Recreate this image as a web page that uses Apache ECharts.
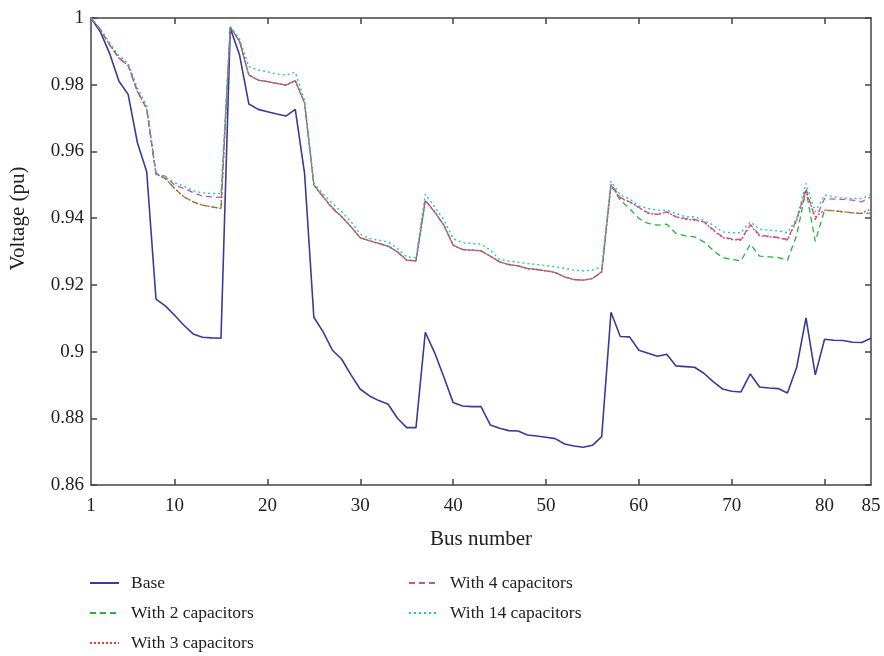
<!DOCTYPE html>
<html>
<head>
<meta charset="utf-8">
<script src="https://cdn.jsdelivr.net/npm/echarts@6/dist/echarts.min.js"></script>
<style>
html,body{margin:0;padding:0;background:#fff;}
#chart{width:884px;height:656px;}
</style>
</head>
<body>
<div id="chart"></div>
<script>
const buses = Array.from({length: 85}, (_, i) => i + 1);
const xTickLabels = [1, 10, 20, 30, 40, 50, 60, 70, 80, 85];
const xTicks = [10, 20, 30, 40, 50, 60, 70, 80];

const base = [
1.0000,0.9959,0.9894,0.9811,0.9771,0.9626,0.9539,0.9157,0.9137,0.9109,
0.9079,0.9053,0.9043,0.9041,0.9040,0.9969,0.9889,0.9742,0.9726,0.9719,
0.9712,0.9706,0.9726,0.9534,0.9103,0.9059,0.9004,0.8977,0.8930,0.8887,
0.8867,0.8853,0.8842,0.8800,0.8772,0.8772,0.9058,0.8997,0.8924,0.8847,
0.8837,0.8835,0.8835,0.8780,0.8770,0.8763,0.8762,0.8750,0.8747,0.8743,
0.8739,0.8723,0.8717,0.8713,0.8719,0.8745,0.9118,0.9045,0.9044,0.9004,
0.8995,0.8986,0.8992,0.8957,0.8955,0.8953,0.8935,0.8910,0.8888,0.8881,
0.8879,0.8933,0.8894,0.8891,0.8889,0.8876,0.8953,0.9101,0.8930,0.9037,
0.9034,0.9033,0.9028,0.9027,0.9040];

const cap2 = [
1.0000,0.9965,0.9920,0.9880,0.9858,0.9780,0.9728,0.9532,0.9519,0.9489,
0.9464,0.9449,0.9439,0.9434,0.9429,0.9972,0.9930,0.9829,0.9814,0.9809,
0.9804,0.9799,0.9812,0.9745,0.9499,0.9464,0.9429,0.9404,0.9374,0.9341,
0.9332,0.9324,0.9316,0.9299,0.9274,0.9272,0.9452,0.9419,0.9379,0.9319,
0.9306,0.9304,0.9302,0.9286,0.9269,0.9261,0.9257,0.9249,0.9246,0.9242,
0.9237,0.9224,0.9216,0.9214,0.9219,0.9239,0.9499,0.9454,0.9429,0.9399,
0.9384,0.9379,0.9382,0.9354,0.9347,0.9344,0.9329,0.9304,0.9282,0.9276,
0.9272,0.9322,0.9286,0.9284,0.9282,0.9274,0.9349,0.9484,0.9330,0.9424,
0.9422,0.9419,0.9416,0.9414,0.9415];

const cap3 = [
1.0000,0.9965,0.9920,0.9880,0.9858,0.9780,0.9728,0.9532,0.9519,0.9489,
0.9464,0.9449,0.9439,0.9434,0.9429,0.9972,0.9930,0.9829,0.9814,0.9809,
0.9804,0.9799,0.9812,0.9745,0.9499,0.9464,0.9429,0.9404,0.9374,0.9341,
0.9332,0.9324,0.9316,0.9299,0.9274,0.9272,0.9452,0.9419,0.9379,0.9319,
0.9306,0.9304,0.9302,0.9286,0.9269,0.9261,0.9257,0.9249,0.9246,0.9242,
0.9237,0.9224,0.9216,0.9214,0.9219,0.9239,0.9499,0.9459,0.9449,0.9432,
0.9414,0.9411,0.9419,0.9404,0.9397,0.9394,0.9389,0.9364,0.9342,0.9336,
0.9334,0.9379,0.9347,0.9344,0.9341,0.9334,0.9394,0.9479,0.9404,0.9424,
0.9422,0.9419,0.9416,0.9414,0.9428];

const cap4 = [
1.0000,0.9965,0.9920,0.9880,0.9858,0.9780,0.9728,0.9532,0.9526,0.9499,
0.9489,0.9477,0.9466,0.9464,0.9462,0.9972,0.9930,0.9829,0.9814,0.9809,
0.9804,0.9799,0.9812,0.9745,0.9499,0.9464,0.9432,0.9404,0.9374,0.9341,
0.9332,0.9324,0.9316,0.9299,0.9274,0.9272,0.9455,0.9419,0.9379,0.9319,
0.9306,0.9304,0.9302,0.9286,0.9269,0.9261,0.9257,0.9249,0.9246,0.9242,
0.9237,0.9224,0.9216,0.9214,0.9219,0.9239,0.9502,0.9462,0.9449,0.9432,
0.9416,0.9411,0.9419,0.9404,0.9399,0.9396,0.9389,0.9366,0.9344,0.9338,
0.9336,0.9381,0.9349,0.9346,0.9342,0.9336,0.9396,0.9489,0.9395,0.9459,
0.9457,0.9456,0.9454,0.9449,0.9464];

const cap14 = [
1.0000,0.9968,0.9926,0.9887,0.9865,0.9790,0.9738,0.9535,0.9522,0.9506,
0.9496,0.9482,0.9476,0.9474,0.9474,0.9975,0.9937,0.9854,0.9844,0.9839,
0.9832,0.9829,0.9837,0.9752,0.9505,0.9472,0.9444,0.9419,0.9389,0.9352,
0.9339,0.9334,0.9329,0.9309,0.9284,0.9282,0.9472,0.9434,0.9394,0.9339,
0.9326,0.9324,0.9322,0.9304,0.9276,0.9271,0.9268,0.9264,0.9261,0.9258,
0.9254,0.9249,0.9244,0.9242,0.9244,0.9254,0.9511,0.9469,0.9458,0.9436,
0.9429,0.9424,0.9424,0.9414,0.9404,0.9404,0.9394,0.9379,0.9359,0.9356,
0.9356,0.9389,0.9367,0.9364,0.9362,0.9356,0.9399,0.9504,0.9419,0.9469,
0.9464,0.9460,0.9459,0.9459,0.9471];

const seriesNames = ['Base', 'With 2 capacitors', 'With 3 capacitors', 'With 4 capacitors', 'With 14 capacitors'];

const FONT = '"Liberation Serif", "DejaVu Serif", serif';
const AX = '#444';
const TXT = '#222';

function pairs(arr) { return buses.map((b, i) => [b, arr[i]]); }

function mk(name, arr, color, type, width) {
  return {
    name: name, type: 'line', data: pairs(arr),
    symbol: 'none', showSymbol: false,
    xAxisIndex: 0, yAxisIndex: 0,
    lineStyle: { color: color, width: width, type: type },
    itemStyle: { color: color },
    emphasis: { disabled: true }, animation: false
  };
}

function leg(name, left, centerY) {
  return {
    data: [name], left: left, top: centerY - 9, padding: 0,
    itemWidth: 29, itemHeight: 18, selectedMode: false,
    itemStyle: { opacity: 0 },
    textStyle: { fontFamily: FONT, fontSize: 17.5, color: TXT, padding: [0, 0, 0, 7] }
  };
}

const chart = echarts.init(document.getElementById('chart'), null, { renderer: 'canvas' });
chart.setOption({
  backgroundColor: '#fff',
  animation: false,
  grid: { left: 91, right: 13, top: 18, bottom: 171, containLabel: false },
  legend: [
    leg(seriesNames[0], 89, 583),
    leg(seriesNames[1], 89, 613),
    leg(seriesNames[2], 89, 643),
    leg(seriesNames[3], 408, 583),
    leg(seriesNames[4], 408, 613)
  ],
  xAxis: [
    { type: 'value', min: 1, max: 85, position: 'bottom',
      name: 'Bus number', nameLocation: 'middle', nameGap: 44,
      nameTextStyle: { fontFamily: FONT, fontSize: 21, color: TXT },
      axisLine: { lineStyle: { color: AX, width: 1.5 } },
      axisTick: { inside: true, length: 6, lineStyle: { color: AX, width: 1.5 }, customValues: xTicks },
      axisLabel: { fontFamily: FONT, fontSize: 19, color: TXT, margin: 12, customValues: xTickLabels },
      splitLine: { show: false } },
    { type: 'value', min: 1, max: 85, position: 'top',
      axisLine: { lineStyle: { color: AX, width: 1.5 } },
      axisTick: { inside: true, length: 6, lineStyle: { color: AX, width: 1.5 }, customValues: xTicks },
      axisLabel: { show: false, customValues: xTickLabels },
      splitLine: { show: false } }
  ],
  yAxis: [
    { type: 'value', min: 0.86, max: 1, interval: 0.02, position: 'left',
      name: 'Voltage (pu)', nameLocation: 'middle', nameGap: 62, nameRotate: 90,
      nameTextStyle: { fontFamily: FONT, fontSize: 21, color: TXT, padding: [0, 0, 0, 66] },
      axisLine: { show: true, lineStyle: { color: AX, width: 1.5 } },
      axisTick: { show: true, inside: true, length: 6, lineStyle: { color: AX, width: 1.5 } },
      axisLabel: { fontFamily: FONT, fontSize: 19, color: TXT, margin: 7 },
      splitLine: { show: false } },
    { type: 'value', min: 0.86, max: 1, interval: 0.02, position: 'right',
      axisLine: { show: true, lineStyle: { color: AX, width: 1.5 } },
      axisTick: { show: true, inside: true, length: 6, lineStyle: { color: AX, width: 1.5 } },
      axisLabel: { show: false },
      splitLine: { show: false } }
  ],
  series: [
    mk(seriesNames[0], base, '#3b3a98', 'solid', 1.6),
    mk(seriesNames[1], cap2, '#22b43c', [6, 4], 1.3),
    mk(seriesNames[2], cap3, '#e8402c', [2, 2], 1.3),
    mk(seriesNames[3], cap4, '#c9509e', [6, 4], 1.3),
    mk(seriesNames[4], cap14, '#1cc6c6', [2, 3], 1.4)
  ]
});
</script>
</body>
</html>
